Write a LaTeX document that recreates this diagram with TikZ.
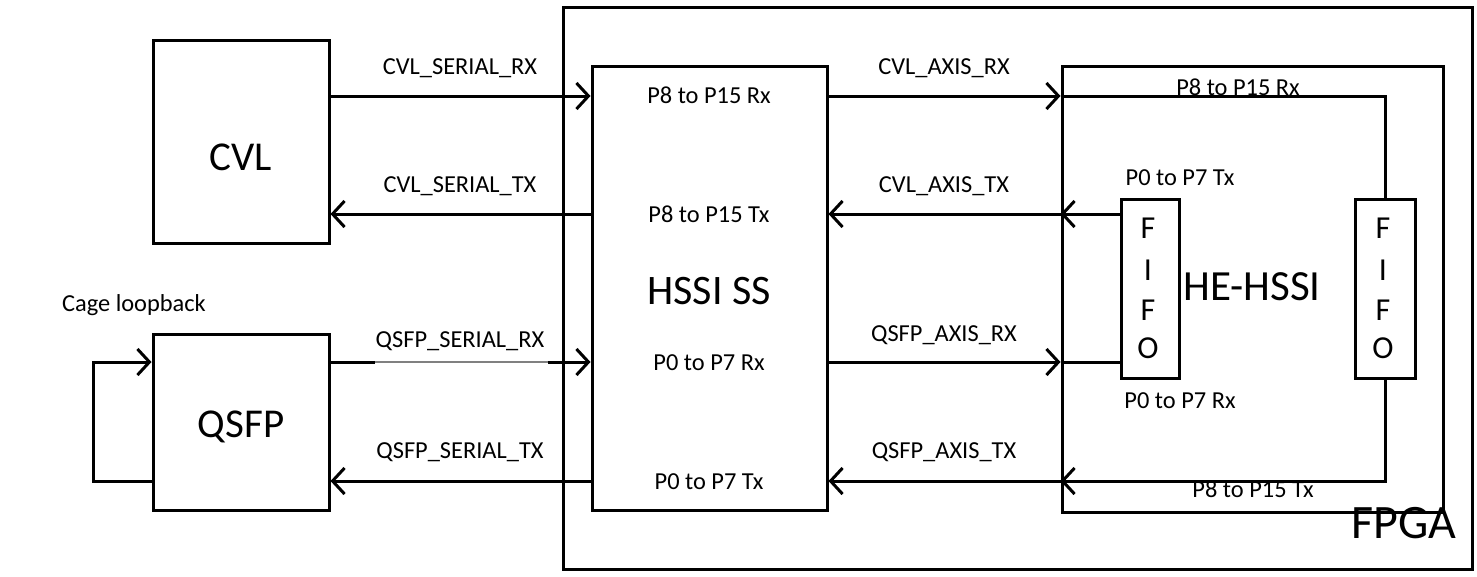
\documentclass[tikz,border=0pt]{standalone}
\usepackage{fontspec}
\setmainfont{Carlito}
\usetikzlibrary{arrows.meta}
\begin{document}
\begin{tikzpicture}[x=1pt,y=-1pt, line width=3pt,
  box/.style={draw, rectangle, inner sep=0pt},
  arr/.style={-{Straight Barb[length=12pt,width=26pt,line width=3pt]}},
  lbl/.style={font=\fontsize{24.4}{26}\selectfont, anchor=base, inner sep=0pt},
  big/.style={font=\fontsize{41}{46}\selectfont, anchor=base, inner sep=0pt},
  fifol/.style={font=\fontsize{32}{34}\selectfont, anchor=base, inner sep=0pt}]
\useasboundingbox (0,0) rectangle (1477,576);

% boxes
\node[box, minimum width=909pt, minimum height=562pt] (fpga) at (1017.5,288) {};
\node[box, minimum width=176pt, minimum height=203pt] (cvl) at (241,141.5) {};
\node[box, minimum width=176pt, minimum height=176pt] (qsfp) at (241,422) {};
\node[box, minimum width=235pt, minimum height=444pt] (hssi) at (709.5,288) {};
\node[box, minimum width=381pt, minimum height=446pt] (he) at (1252.5,289) {};
\node[box, minimum width=58pt, minimum height=179pt] (lfifo) at (1150,288.5) {};
\node[box, minimum width=60pt, minimum height=179pt] (rfifo) at (1385,288.5) {};

% row coordinates
\coordinate (r1) at (0,96);
\coordinate (r2) at (0,214);
\coordinate (r3) at (0,362);
\coordinate (r4) at (0,481);
\coordinate (lp) at (93,0);

% big labels
\node[big] (tcvl) at (241,170) {CVL};
\node[big] (tqsfp) at (241,437) {QSFP};
\node[big, font=\fontsize{42}{46}\selectfont] (thssi) at (709,304) {HSSI SS};
\node[big, font=\fontsize{43}{46}\selectfont] (the) at (1252,300) {HE-HSSI};
\node[big, font=\fontsize{48}{52}\selectfont] (tfpga) at (1404,538) {FPGA};

% FIFO letters
\foreach \n/\x in {l/1148, r/1383}{
  \node[fifol] (\n f1) at (\x,238) {F};
  \node[fifol] (\n f2) at (\x,280) {I};
  \node[fifol] (\n f3) at (\x,320) {F};
  \node[fifol] (\n f4) at (\x,358) {O};
}

% HSSI port labels
\node[lbl] (h1) at (709,103) {P8 to P15 Rx};
\node[lbl] (h2) at (709,222) {P8 to P15 Tx};
\node[lbl] (h3) at (709,370) {P0 to P7 Rx};
\node[lbl] (h4) at (709,489) {P0 to P7 Tx};

% HE-HSSI port labels
\node[lbl] (e1) at (1238,95) {P8 to P15 Rx};
\node[lbl] (e2) at (1180,185) {P0 to P7 Tx};
\node[lbl] (e3) at (1180,408) {P0 to P7 Rx};
\node[lbl] (e4) at (1253,497) {P8 to P15 Tx};

% signal labels
\node[lbl] (s1) at (460,74) {CVL\_SERIAL\_RX};
\node[lbl] (s2) at (460,192) {CVL\_SERIAL\_TX};
\node[lbl] (s3) at (460,347) {QSFP\_SERIAL\_RX};
\node[lbl] (s4) at (460,458) {QSFP\_SERIAL\_TX};
\node[lbl] (a1) at (944,74) {CVL\_AXIS\_RX};
\node[lbl] (a2) at (944,192) {CVL\_AXIS\_TX};
\node[lbl] (a3) at (944,341) {QSFP\_AXIS\_RX};
\node[lbl] (a4) at (944,458) {QSFP\_AXIS\_TX};
\node[lbl] (cage) at (134,311) {Cage loopback};

% serial connectors
\draw[arr] (cvl.east |- r1) -- (hssi.west |- r1);
\draw[arr] (hssi.west |- r2) -- (cvl.east |- r2);
\draw[arr] (qsfp.east |- r3) -- (hssi.west |- r3);
\draw[white, line width=3.4pt] (375,362) -- (548,362);
\draw[gray, line width=1.5pt] (375,362) -- (548,362);
\draw[arr] (hssi.west |- r4) -- (qsfp.east |- r4);

% cage loopback
\draw[arr] (qsfp.west |- r4) -| (lp |- r3) -- (qsfp.west |- r3);

% AXIS connectors
\draw[arr] (hssi.east |- r1) -- (he.west |- r1);
\draw (he.west |- r1) -- (rfifo.north |- r1) -- (rfifo.north);
\draw[arr] (lfifo.west |- r2) -- (he.west |- r2);
\draw[arr] (he.west |- r2) -- (hssi.east |- r2);
\draw[arr] (hssi.east |- r3) -- (he.west |- r3);
\draw (he.west |- r3) -- (lfifo.west |- r3);
\draw[arr] (rfifo.south) -- (rfifo.south |- r4) -- (he.west |- r4);
\draw[arr] (he.west |- r4) -- (hssi.east |- r4);
\end{tikzpicture}
\end{document}
